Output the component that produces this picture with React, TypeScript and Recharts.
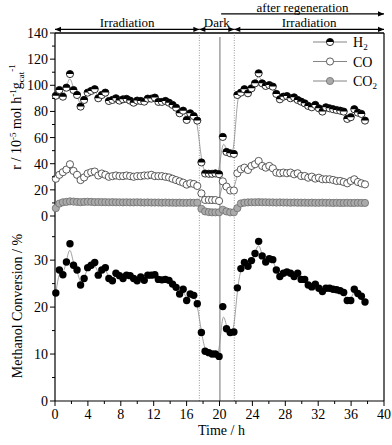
import { LineChart, Line, XAxis, YAxis, ReferenceLine, Legend } from "recharts";

// sampling times (h)
const time = [
  0.1, 0.53, 0.96, 1.39, 1.82, 2.25, 2.68, 3.11, 3.54, 3.97,
  4.4, 4.83, 5.26, 5.69, 6.12, 6.55, 6.98, 7.41, 7.84, 8.27,
  8.7, 9.13, 9.56, 9.99, 10.42, 10.85, 11.28, 11.71, 12.14, 12.57,
  13.0, 13.43, 13.86, 14.29, 14.72, 15.15, 15.58, 16.01, 16.44, 16.87,
  17.3, 17.8, 18.25, 18.7, 19.1, 19.5, 19.95, 20.4, 20.85, 21.3,
  21.75, 22.17, 22.6, 23.03, 23.46, 23.89, 24.32, 24.76, 25.19, 25.62,
  26.05, 26.48, 26.91, 27.34, 27.77, 28.2, 28.63, 29.07, 29.5, 29.93,
  30.36, 30.79, 31.22, 31.65, 32.08, 32.51, 32.94, 33.38, 33.81, 34.24,
  34.67, 35.1, 35.53, 35.96, 36.39, 36.82, 37.25, 37.69,
];

// rates, 10^-5 mol h^-1 g_cat^-1
const h2 = [
  92, 96.4, 91.3, 98.2, 108.6, 96.4, 92.6, 83.7, 88.8, 94.4,
  95.7, 97.0, 90.1, 92.6, 94.4, 88.0, 88.8, 90.1, 88.3, 89.3,
  89.6, 88.3, 86.7, 88.3, 88.0, 87.5, 89.8, 89.8, 90.6, 87.3,
  87.3, 88.0, 86.7, 85.0, 82.9, 78.6, 80.6, 73.5, 78.6, 76.5,
  73.0, 41.0, 32.5, 32.3, 32.3, 32.6, 32.0, 60.5, 49.0, 48.0,
  47.5, 92.6, 94.4, 97.0, 93.9, 97.7, 101.5, 109.2, 101.5, 99.5,
  100.2, 99.0, 93.4, 89.3, 91.3, 91.8, 90.1, 90.8, 88.8, 87.5,
  86.2, 84.2, 83.2, 85.0, 82.4, 79.9, 83.2, 82.4, 81.7, 81.1,
  80.6, 79.9, 74.3, 75.6, 81.7, 79.1, 78.1, 73.0,
];

const co = [
  28.5, 31.5, 33.5, 35.5, 39.6, 34.5, 31.5, 27.5, 29.5, 32.5,
  33.5, 34.0, 31.0, 32.5, 31.5, 30.0, 30.5, 31.0, 30.5, 30.5,
  31.0, 30.5, 30.0, 30.5, 30.5, 31.0, 31.0, 31.5, 30.5, 30.5,
  30.5, 30.0, 29.5, 28.5, 27.5, 26.5, 25.5, 24.0, 25.0, 24.5,
  23.0, 17.3, 12.3, 12.3, 12.2, 12.2, 11.5, 26.5, 22.5, 19.5,
  19.5, 32.7, 35.7, 37.0, 35.2, 38.3, 39.6, 42.1, 38.3, 37.0,
  38.3, 36.5, 33.2, 32.7, 33.2, 32.7, 33.2, 31.9, 32.7, 30.6,
  30.6, 29.3, 30.1, 28.6, 29.3, 28.1, 28.1, 28.1, 27.6, 26.8,
  26.8, 26.0, 25.0, 26.8, 28.1, 26.0, 25.0, 24.2,
];

const co2 = [
  6.0, 9.5, 10.5, 10.8, 11.2, 11.0, 10.8, 10.6, 10.8, 10.9,
  10.8, 10.6, 10.7, 10.6, 10.6, 10.5, 10.6, 10.5, 10.5, 10.4,
  10.5, 10.4, 10.4, 10.5, 10.4, 10.3, 10.4, 10.3, 10.3, 10.3,
  10.2, 10.3, 10.2, 10.2, 10.1, 10.2, 10.1, 10.1, 10.2, 10.1,
  10.2, 5.5, 3.5, 3.0, 2.8, 2.8, 2.8, 4.8, 3.5, 2.8,
  2.8, 6.0, 9.6, 10.2, 10.4, 10.5, 10.5, 10.6, 10.5, 10.5,
  10.4, 10.4, 10.3, 10.4, 10.3, 10.3, 10.2, 10.3, 10.2, 10.2,
  10.2, 10.1, 10.2, 10.1, 10.1, 10.2, 10.1, 10.1, 10.0, 10.1,
  10.0, 10.0, 10.1, 10.0, 10.0, 10.1, 10.0, 10.0,
];

// methanol conversion, %
const conversion = [
  23.0, 27.9, 26.9, 29.6, 33.5, 28.9, 27.9, 24.7, 26.1, 28.4,
  28.9, 29.5, 26.8, 27.9, 28.4, 26.1, 25.6, 27.2, 26.7, 26.1,
  26.8, 26.7, 26.1, 25.6, 26.4, 25.7, 26.8, 26.8, 26.9, 25.9,
  25.8, 25.9, 25.7, 24.9, 24.2, 22.8, 23.8, 21.4, 22.8, 22.5,
  20.7, 14.6, 10.6, 10.3, 10.0, 10.0, 9.5, 20.1, 15.4, 14.6,
  14.7, 24.1, 28.2, 29.5, 28.7, 29.9, 31.4, 34.0, 30.9, 29.6,
  30.3, 30.1, 27.9, 26.5, 27.2, 27.5, 27.2, 26.5, 27.2, 25.9,
  25.9, 24.7, 24.3, 24.9, 24.0, 23.3, 24.0, 24.0, 23.8, 23.7,
  23.5, 23.1, 21.4, 21.4, 23.8, 22.9, 22.3, 21.1,
];

const xTicks = [0, 2, 4, 6, 8, 10, 12, 14, 16, 18, 20, 22, 24, 26, 28, 30, 32, 34, 36, 38, 40];
const rTicks = [0, 10, 20, 30, 40, 50, 60, 70, 80, 90, 100, 110, 120, 130, 140];
const convTicks = [0, 5, 10, 15, 20, 25, 30, 35];

const phases = [
  { name: "Irradiation", start: 0, end: 17.55 },
  { name: "Dark", start: 17.55, end: 21.8 },
  { name: "Irradiation", start: 21.8, end: 40 },
];
const regeneration = { name: "after regeneration", start: 20.2, end: 40 };
const regenTime = 20.05;

const legendItems = [
  { key: "h2", base: "H", sub: "2" },
  { key: "co", base: "CO", sub: "" },
  { key: "co2", base: "CO", sub: "2" },
];

const rows = time.map((t, i) => ({
  t,
  h2: h2[i],
  co: co[i],
  co2: co2[i],
  conv: conversion[i],
}));

const FONT = "'Liberation Serif', 'Times New Roman', serif";
const LINE = "#8a8a8a";
const R = 3.6;

function marker(kind: string, cx: number, cy: number, key?: any) {
  if (kind === "h2") {
    return (
      <g key={key}>
        <circle cx={cx} cy={cy} r={R} fill="#fff" />
        <path d={`M${cx - R},${cy} A${R},${R} 0 0 1 ${cx + R},${cy} Z`} fill="#000" />
        <circle cx={cx} cy={cy} r={R} fill="none" stroke="#000" strokeWidth={0.8} />
      </g>
    );
  }
  if (kind === "co") {
    return <circle key={key} cx={cx} cy={cy} r={R} fill="#fff" stroke="#333" strokeWidth={0.8} />;
  }
  if (kind === "co2") {
    return <circle key={key} cx={cx} cy={cy} r={R} fill="#aaa" stroke="#6e6e6e" strokeWidth={0.8} />;
  }
  return <circle key={key} cx={cx} cy={cy} r={3.7} fill="#000" />;
}

const dotFor = (kind: string) => (p: any) => {
  if (p.cx == null || p.cy == null) return <g key={`${kind}-${p.index}`} />;
  return marker(kind, p.cx, p.cy, `${kind}-${p.index}`);
};

function RTick({ x, y, payload }: any) {
  const major = payload.value % 20 === 0;
  return (
    <g>
      <line x1={x} x2={x - (major ? 5 : 3)} y1={y} y2={y} stroke="#000" />
      {major && (
        <text x={x - 7} y={y} dy={5} textAnchor="end" fontSize={14} fontFamily={FONT} fill="#000">
          {payload.value}
        </text>
      )}
    </g>
  );
}

function ConvTick({ x, y, payload }: any) {
  const major = payload.value % 10 === 0;
  return (
    <g>
      <line x1={x} x2={x - (major ? 5 : 3)} y1={y} y2={y} stroke="#000" />
      {major && (
        <text x={x - 7} y={y} dy={5} textAnchor="end" fontSize={14} fontFamily={FONT} fill="#000">
          {payload.value}
        </text>
      )}
    </g>
  );
}

function MidTick({ x, y }: any) {
  return <line x1={x} x2={x} y1={y} y2={y + 4} stroke="#000" />;
}

function TimeTick({ x, y, payload }: any) {
  const major = payload.value % 4 === 0;
  return (
    <g>
      <line x1={x} x2={x} y1={y} y2={y + (major ? 5 : 3)} stroke="#000" />
      {major && (
        <text x={x} y={y + 18} textAnchor="middle" fontSize={14} fontFamily={FONT} fill="#000">
          {payload.value}
        </text>
      )}
    </g>
  );
}

function RateLabel({ viewBox }: any) {
  const cx = 21;
  const cy = viewBox.y + 84;
  return (
    <text
      x={cx}
      y={cy}
      transform={`rotate(-90, ${cx}, ${cy})`}
      textAnchor="middle"
      fontSize={14}
      fontFamily={FONT}
      fill="#000"
    >
      r / 10
      <tspan dy={-5} fontSize={9}>-5</tspan>
      <tspan dy={5}> mol h</tspan>
      <tspan dy={-5} fontSize={9}>-1</tspan>
      <tspan dy={5}>g</tspan>
      <tspan dy={3} fontSize={9}>cat</tspan>
      <tspan dy={-9} fontSize={9}>-1</tspan>
    </text>
  );
}

function ConvLabel({ viewBox }: any) {
  const cx = 22;
  const cy = viewBox.y + 90;
  return (
    <text
      x={cx}
      y={cy}
      transform={`rotate(-90, ${cx}, ${cy})`}
      textAnchor="middle"
      fontSize={14}
      fontFamily={FONT}
      fill="#000"
    >
      Methanol Conversion / %
    </text>
  );
}

function TimeLabel({ viewBox }: any) {
  return (
    <text
      x={viewBox.x + viewBox.width / 2 + 2}
      y={viewBox.y + 34}
      textAnchor="middle"
      fontSize={14}
      fontFamily={FONT}
      fill="#000"
    >
      Time / h
    </text>
  );
}

function Arrow(props: any) {
  const { x1, y1, x2, text, both } = props;
  const h = 6;
  const w = 2.6;
  return (
    <g>
      <line x1={x1} y1={y1} x2={x2} y2={y1} stroke="#000" strokeWidth={1.2} />
      <polygon points={`${x2},${y1} ${x2 - h},${y1 - w} ${x2 - h},${y1 + w}`} fill="#000" />
      {both && <polygon points={`${x1},${y1} ${x1 + h},${y1 - w} ${x1 + h},${y1 + w}`} fill="#000" />}
      <text x={(x1 + x2) / 2} y={y1 - 2} textAnchor="middle" fontSize={13} fontFamily={FONT} fill="#000">
        {text}
      </text>
    </g>
  );
}

function LegendBox() {
  return (
    <svg width={84} height={62} style={{ display: "block" }}>
      {legendItems.map((it, i) => {
        const y = 10 + i * 19.5;
        return (
          <g key={it.key}>
            <line x1={5} x2={39} y1={y} y2={y} stroke="#666" strokeWidth={0.8} />
            {marker(it.key, 22, y)}
            <text x={45} y={y + 5} fontSize={14} fontFamily={FONT} fill="#000">
              {it.base}
              {it.sub && (
                <tspan dy={3} fontSize={9}>
                  {it.sub}
                </tspan>
              )}
            </text>
          </g>
        );
      })}
    </svg>
  );
}

export default function App() {
  return (
    <div style={{ position: "absolute", left: 0, top: 0, width: 392, height: 445, background: "#fff", fontFamily: FONT }}>
      <div style={{ position: "absolute", left: 0, top: 0 }}>
        <LineChart width={392} height={228} data={rows} margin={{ top: 33, right: 8, bottom: 12, left: 0 }}>
          <XAxis
            type="number"
            dataKey="t"
            domain={[0, 40]}
            ticks={xTicks}
            interval={0}
            height={0}
            tick={<MidTick />}
            tickSize={0}
            tickMargin={0}
            axisLine={{ stroke: "#000", strokeWidth: 1.2 }}
          />
          <YAxis
            type="number"
            domain={[0, 140]}
            ticks={rTicks}
            interval={0}
            width={55}
            tick={<RTick />}
            tickSize={0}
            tickMargin={0}
            axisLine={{ stroke: "#000", strokeWidth: 1.2 }}
            label={<RateLabel />}
          />
          <ReferenceLine y={140} stroke="#000" strokeWidth={1.4} ifOverflow="visible" />
          <ReferenceLine x={40} stroke="#000" strokeWidth={1.2} ifOverflow="visible" />
          <ReferenceLine x={phases[0].end} stroke="#999" strokeDasharray="1 1.5" ifOverflow="visible" />
          <ReferenceLine x={phases[1].end} stroke="#999" strokeDasharray="1 1.5" ifOverflow="visible" />
          <ReferenceLine
            segment={[{ x: regenTime, y: 0 }, { x: regenTime, y: 137 }]}
            stroke="#888"
            strokeWidth={1.2}
            ifOverflow="visible"
          />
          {phases.map((ph, i) => (
            <ReferenceLine
              key={`ph-${i}`}
              segment={[{ x: ph.start, y: 142.7 }, { x: ph.end, y: 142.7 }]}
              ifOverflow="visible"
              shape={(p: any) => <Arrow {...p} text={ph.name} both />}
            />
          ))}
          <ReferenceLine
            segment={[{ x: regeneration.start, y: 154.6 }, { x: regeneration.end, y: 154.6 }]}
            ifOverflow="visible"
            shape={(p: any) => <Arrow {...p} text={regeneration.name} both={false} />}
          />
          <Line type="basis" dataKey="co2" stroke={LINE} strokeWidth={0.8} dot={dotFor("co2")} activeDot={false} isAnimationActive={false} />
          <Line type="basis" dataKey="co" stroke={LINE} strokeWidth={0.8} dot={dotFor("co")} activeDot={false} isAnimationActive={false} />
          <Line type="basis" dataKey="h2" stroke={LINE} strokeWidth={0.8} dot={dotFor("h2")} activeDot={false} isAnimationActive={false} />
          <Legend
            layout="vertical"
            align="center"
            verticalAlign="middle"
            content={() => <LegendBox />}
            wrapperStyle={{ left: 308, top: 32, width: 84, height: 62 }}
          />
        </LineChart>
      </div>
      <div style={{ position: "absolute", left: 0, top: 216 }}>
        <LineChart width={392} height={229} data={rows} margin={{ top: 0, right: 8, bottom: 0, left: 0 }}>
          <XAxis
            type="number"
            dataKey="t"
            domain={[0, 40]}
            ticks={xTicks}
            interval={0}
            height={44}
            tick={<TimeTick />}
            tickSize={0}
            tickMargin={0}
            axisLine={{ stroke: "#000", strokeWidth: 1.2 }}
            label={<TimeLabel />}
          />
          <YAxis
            type="number"
            domain={[0, 39.4]}
            ticks={convTicks}
            interval={0}
            width={55}
            tick={<ConvTick />}
            tickSize={0}
            tickMargin={0}
            axisLine={{ stroke: "#000", strokeWidth: 1.2 }}
            label={<ConvLabel />}
          />
          <ReferenceLine x={40} stroke="#000" strokeWidth={1.2} ifOverflow="visible" />
          <ReferenceLine x={phases[0].end} stroke="#999" strokeDasharray="1 1.5" ifOverflow="visible" />
          <ReferenceLine x={phases[1].end} stroke="#999" strokeDasharray="1 1.5" ifOverflow="visible" />
          <ReferenceLine x={regenTime} stroke="#888" strokeWidth={1.2} ifOverflow="visible" />
          <Line type="basis" dataKey="conv" stroke={LINE} strokeWidth={0.8} dot={dotFor("conv")} activeDot={false} isAnimationActive={false} />
        </LineChart>
      </div>
    </div>
  );
}
